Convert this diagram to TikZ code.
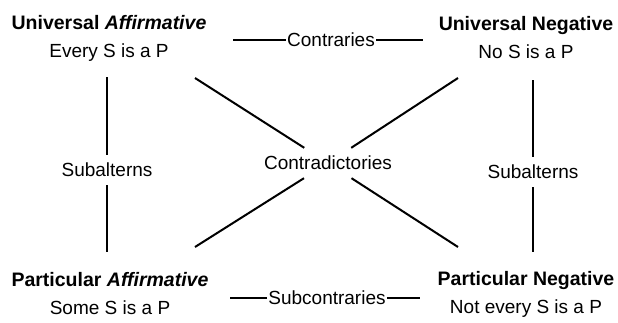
\documentclass[tikz,border=0pt]{standalone}
\usepackage{fontspec}
\setmainfont{Liberation Sans}
\usepackage{tikz}
\usetikzlibrary{positioning, calc}
\tikzstyle{link} = [line width=2pt, line cap=butt]
\tikzstyle{corner} = [align=center, inner sep=0pt, font=\fontsize{19}{28}\selectfont]
\tikzstyle{lbl} = [inner xsep=1pt, inner ysep=8pt, font=\fontsize{19}{22}\selectfont]
\newcommand{\cornertitle}[1]{{\fontsize{19.5}{28}\selectfont\bfseries #1}}

\begin{document}
\begin{tikzpicture}[x=1pt, y=-1pt]
        \useasboundingbox (0,0) rectangle (618,322);
        % the four corners of the square
        \node (ua) [corner] at (109,38) {\cornertitle{Universal \textit{Affirmative}}\\Every S is a P};
        \node (un) [corner] at (526,38) {\cornertitle{Universal Negative}\\No S is a P};
        \node (pa) [corner] at (110,294) {\cornertitle{Particular \textit{Affirmative}}\\Some S is a P};
        \node (pn) [corner] at (526,294) {\cornertitle{Particular Negative}\\Not every S is a P};
        % labels of the relations
        \node (contraries) [lbl] at (331,40) {Contraries};
        \node (subcontraries) [lbl] at (327,298) {Subcontraries};
        \node (subalt_l) [lbl] at (107,170) {Subalterns};
        \node (subalt_r) [lbl] at (533,172) {Subalterns};
        \node (contra) [lbl] at (328,163) {Contradictories};
        % free ends of the lines
        \coordinate (con_l) at (233,40);
        \coordinate (con_r) at (423,40);
        \coordinate (sub_l) at (230,298);
        \coordinate (sub_r) at (420,298);
        \coordinate (sal_t) at (107,77);
        \coordinate (sal_b) at (107,252);
        \coordinate (sar_t) at (533,80);
        \coordinate (sar_b) at (533,252);
        \coordinate (d_tl) at (195,78);
        \coordinate (d_br) at (458,247);
        \coordinate (d_bl) at (195,247);
        \coordinate (d_tr) at (458,78);
        \draw [link] (con_l) -- (contraries) -- (con_r);
        \draw [link] (sub_l) -- (subcontraries) -- (sub_r);
        \draw [link] (sal_t) -- (subalt_l) -- (sal_b);
        \draw [link] (sar_t) -- (subalt_r) -- (sar_b);
        \draw [link] (d_tl) -- (contra) -- (d_br);
        \draw [link] (d_bl) -- (contra) -- (d_tr);
    \end{tikzpicture}
\end{document}
